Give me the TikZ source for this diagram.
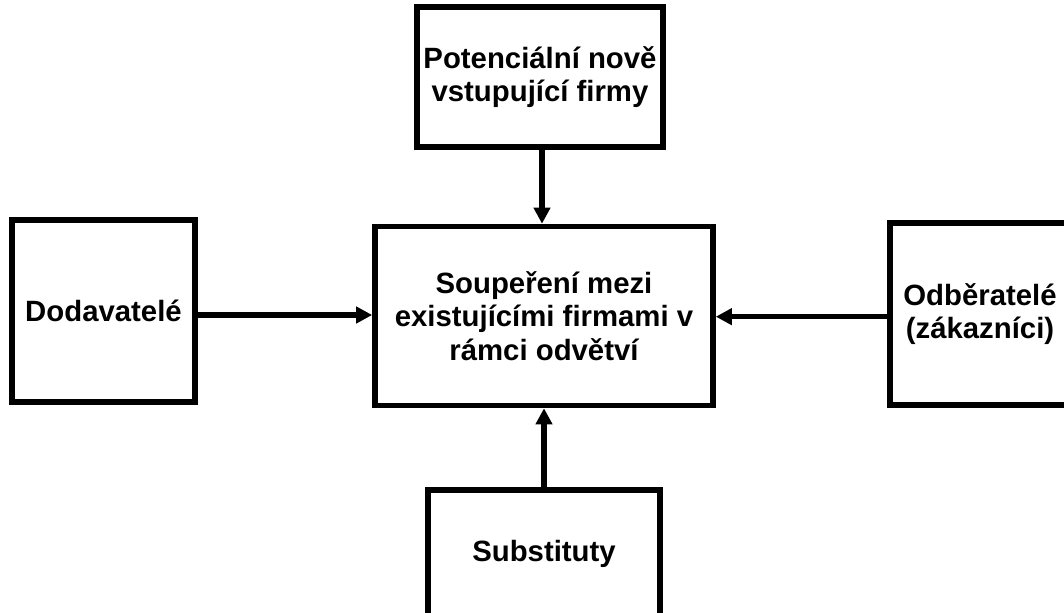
\documentclass[tikz,border=0pt]{standalone}
\usepackage{fontspec}
\setmainfont{Liberation Sans}
\usepackage{tikz}
\usetikzlibrary{arrows.meta}

\begin{document}
\begin{tikzpicture}[x=0.75pt,y=-0.75pt,
  box/.style={draw, line width=4.2pt, inner sep=0pt, align=center,
    font=\fontsize{22}{25}\selectfont\bfseries},
  arr/.style={line width=4.2pt, -{Triangle[length=12pt,width=12pt]}}]
\useasboundingbox (0,0) rectangle (1064,613);
\clip (0,0) rectangle (1064,613);

\node[box, minimum width=246*0.75pt, minimum height=140*0.75pt] (entrants) at (540,77) {Potenciální nově\\vstupující firmy};
\node[box, minimum width=338*0.75pt, minimum height=179*0.75pt] (rivalry) at (544,316) {Soupeření mezi\\existujícími firmami v\\rámci odvětví};
\node[box, minimum width=183*0.75pt, minimum height=182*0.75pt] (suppliers) at (103.5,311) {Dodavatelé};
\node[box, minimum width=180*0.75pt, minimum height=182*0.75pt] (buyers) at (980,314) {Odběratelé\\(zákazníci)};
\node[box, minimum width=232*0.75pt, minimum height=128*0.75pt] (substitutes) at (544,554) {Substituty};

% arrow start points
\coordinate (e1) at ([xshift=1.5pt]entrants.south);
\coordinate (s1) at ([yshift=-3pt]suppliers.east);
\coordinate (b1) at ([yshift=-2pt]buyers.west);

\draw[arr] (e1) -- (e1 |- rivalry.north);
\draw[arr] (s1) -- (s1 -| rivalry.west);
\draw[arr] (b1) -- (b1 -| rivalry.east);
\draw[arr] (substitutes.north) -- (substitutes.north |- rivalry.south);

\end{tikzpicture}
\end{document}
